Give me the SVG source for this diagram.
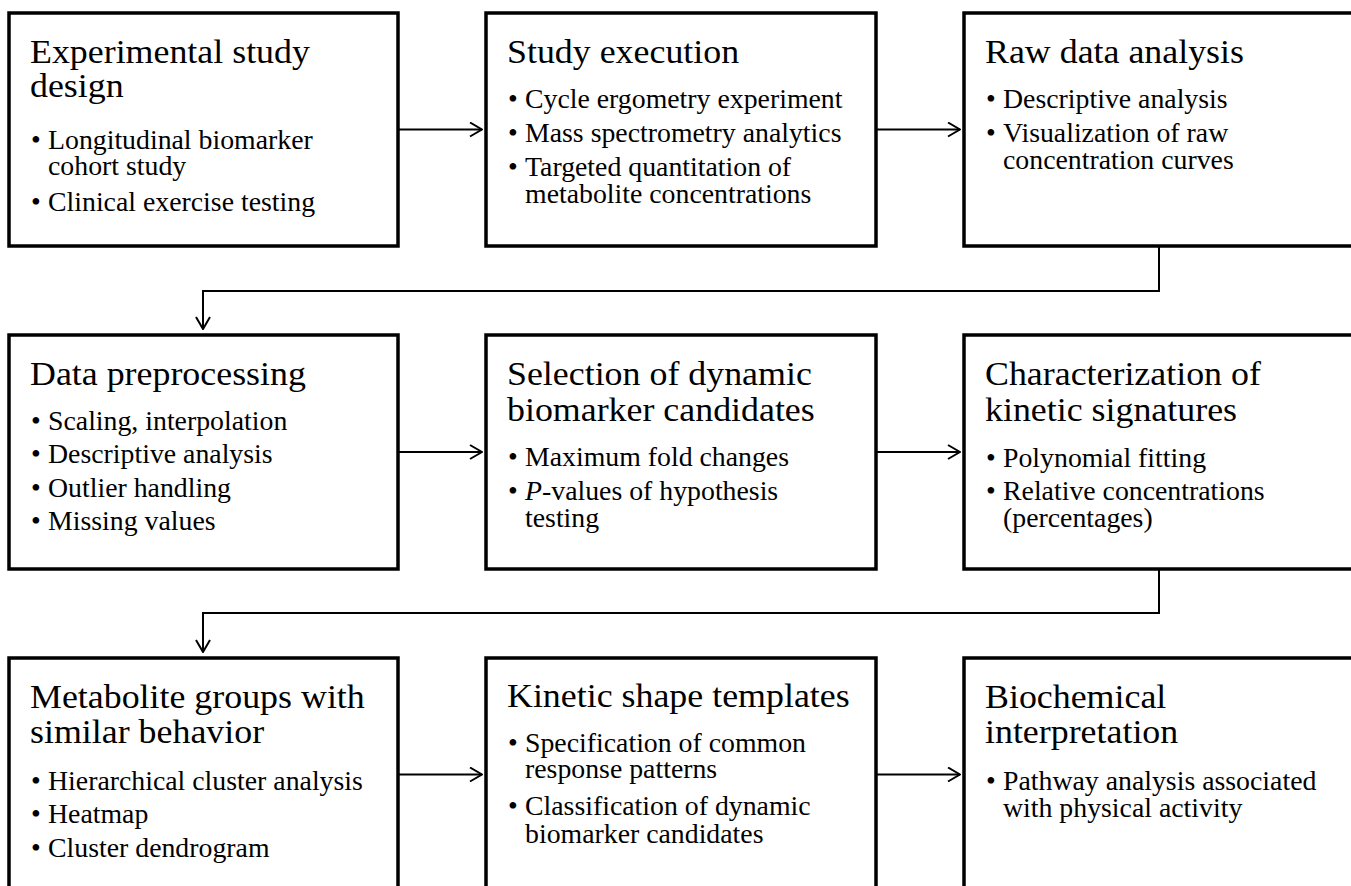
<svg xmlns="http://www.w3.org/2000/svg" width="1351" height="886" viewBox="0 0 1351 886">
<defs>
<marker id="ah" viewBox="0 0 14 16" refX="13" refY="8" markerWidth="14" markerHeight="16" markerUnits="userSpaceOnUse" orient="auto">
<path d="M1,1 L13,8 L1,15" fill="none" stroke="#000" stroke-width="2"/>
</marker>
</defs>
<style>
.box{fill:#fff;stroke:#000;stroke-width:3.5}
.t{font-family:"Liberation Serif","Times New Roman",serif;font-size:34.5px;fill:#000}
.b{font-family:"Liberation Serif","Times New Roman",serif;font-size:27px;fill:#000}
.c{fill:none;stroke:#000;stroke-width:2;marker-end:url(#ah)}
</style>
<rect width="1351" height="886" fill="#fff"/>
<g id="connectors">
<path class="c" d="M398,129.5 H482"/>
<path class="c" d="M876,129.5 H960"/>
<path class="c" d="M1159,246 V291 H203 V329"/>
<path class="c" d="M398,452 H482"/>
<path class="c" d="M876,452 H960"/>
<path class="c" d="M1159,569 V613 H203 V652"/>
<path class="c" d="M398,774.5 H482"/>
<path class="c" d="M876,774.5 H960"/>
</g>
<g id="n1">
<rect class="box" x="9" y="13" width="389" height="233"/>
<text class="t" transform="translate(30,0) scale(1.04,1)"><tspan x="0" y="63">Experimental study</tspan><tspan x="0" y="97">design</tspan></text>
<text class="b" transform="translate(30,0) scale(1.03,1)"><tspan x="1" y="149">•</tspan><tspan x="17.5" y="149">Longitudinal biomarker</tspan><tspan x="17.5" y="175">cohort study</tspan><tspan x="1" y="211">•</tspan><tspan x="17.5" y="211">Clinical exercise testing</tspan></text>
</g>
<g id="n2">
<rect class="box" x="486" y="13" width="390" height="233"/>
<text class="t" transform="translate(507,0) scale(1.04,1)"><tspan x="0" y="63">Study execution</tspan></text>
<text class="b" transform="translate(507,0) scale(1.03,1)"><tspan x="1" y="108">•</tspan><tspan x="17.5" y="108">Cycle ergometry experiment</tspan><tspan x="1" y="142">•</tspan><tspan x="17.5" y="142">Mass spectrometry analytics</tspan><tspan x="1" y="176">•</tspan><tspan x="17.5" y="176">Targeted quantitation of</tspan><tspan x="17.5" y="203">metabolite concentrations</tspan></text>
</g>
<g id="n3">
<rect class="box" x="964" y="13" width="400" height="233"/>
<text class="t" transform="translate(985,0) scale(1.04,1)"><tspan x="0" y="63">Raw data analysis</tspan></text>
<text class="b" transform="translate(985,0) scale(1.03,1)"><tspan x="1" y="108">•</tspan><tspan x="17.5" y="108">Descriptive analysis</tspan><tspan x="1" y="142">•</tspan><tspan x="17.5" y="142">Visualization of raw</tspan><tspan x="17.5" y="169">concentration curves</tspan></text>
</g>
<g id="n4">
<rect class="box" x="9" y="335" width="389" height="234"/>
<text class="t" transform="translate(30,0) scale(1.04,1)"><tspan x="0" y="385">Data preprocessing</tspan></text>
<text class="b" transform="translate(30,0) scale(1.03,1)"><tspan x="1" y="430">•</tspan><tspan x="17.5" y="430">Scaling, interpolation</tspan><tspan x="1" y="463.5">•</tspan><tspan x="17.5" y="463.5">Descriptive analysis</tspan><tspan x="1" y="497">•</tspan><tspan x="17.5" y="497">Outlier handling</tspan><tspan x="1" y="530.5">•</tspan><tspan x="17.5" y="530.5">Missing values</tspan></text>
</g>
<g id="n5">
<rect class="box" x="486" y="335" width="390" height="234"/>
<text class="t" transform="translate(507,0) scale(1.04,1)"><tspan x="0" y="385">Selection of dynamic</tspan><tspan x="0" y="421">biomarker candidates</tspan></text>
<text class="b" transform="translate(507,0) scale(1.03,1)"><tspan x="1" y="466.5">•</tspan><tspan x="17.5" y="466.5">Maximum fold changes</tspan><tspan x="1" y="500">•</tspan><tspan x="17.5" y="500"><tspan font-style="italic">P</tspan>-values of hypothesis</tspan><tspan x="17.5" y="527">testing</tspan></text>
</g>
<g id="n6">
<rect class="box" x="964" y="335" width="400" height="234"/>
<text class="t" transform="translate(985,0) scale(1.04,1)"><tspan x="0" y="385">Characterization of</tspan><tspan x="0" y="421">kinetic signatures</tspan></text>
<text class="b" transform="translate(985,0) scale(1.03,1)"><tspan x="1" y="467">•</tspan><tspan x="17.5" y="467">Polynomial fitting</tspan><tspan x="1" y="500">•</tspan><tspan x="17.5" y="500">Relative concentrations</tspan><tspan x="17.5" y="527">(percentages)</tspan></text>
</g>
<g id="n7">
<rect class="box" x="9" y="658" width="389" height="233"/>
<text class="t" transform="translate(30,0) scale(1.04,1)"><tspan x="0" y="708">Metabolite groups with</tspan><tspan x="0" y="743">similar behavior</tspan></text>
<text class="b" transform="translate(30,0) scale(1.03,1)"><tspan x="1" y="790">•</tspan><tspan x="17.5" y="790">Hierarchical cluster analysis</tspan><tspan x="1" y="823">•</tspan><tspan x="17.5" y="823">Heatmap</tspan><tspan x="1" y="857">•</tspan><tspan x="17.5" y="857">Cluster dendrogram</tspan></text>
</g>
<g id="n8">
<rect class="box" x="486" y="658" width="390" height="233"/>
<text class="t" transform="translate(507,0) scale(1.04,1)"><tspan x="0" y="707">Kinetic shape templates</tspan></text>
<text class="b" transform="translate(507,0) scale(1.03,1)"><tspan x="1" y="752">•</tspan><tspan x="17.5" y="752">Specification of common</tspan><tspan x="17.5" y="778">response patterns</tspan><tspan x="1" y="815">•</tspan><tspan x="17.5" y="815">Classification of dynamic</tspan><tspan x="17.5" y="843">biomarker candidates</tspan></text>
</g>
<g id="n9">
<rect class="box" x="964" y="658" width="400" height="233"/>
<text class="t" transform="translate(985,0) scale(1.04,1)"><tspan x="0" y="708">Biochemical</tspan><tspan x="0" y="743">interpretation</tspan></text>
<text class="b" transform="translate(985,0) scale(1.03,1)"><tspan x="1" y="790">•</tspan><tspan x="17.5" y="790">Pathway analysis associated</tspan><tspan x="17.5" y="817">with physical activity</tspan></text>
</g>
</svg>
